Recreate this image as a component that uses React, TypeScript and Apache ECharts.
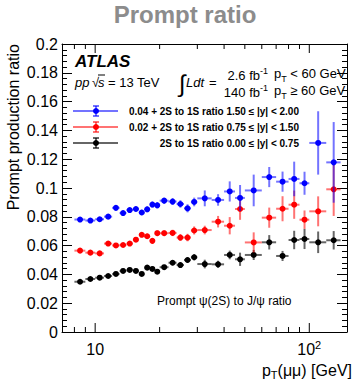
import { useEffect, useRef } from 'react';
import * as echarts from 'echarts';

// pT bins (GeV): centres and edges
const ptCenter = [8.5, 9.5, 10.5, 11.5, 12.5, 13.5, 14.5, 15.5, 16.5, 17.5, 18.5, 19.5, 21, 23, 25, 27, 29, 32.5, 37.5, 42.5, 47.5, 55, 65, 75, 85, 95, 110, 130];
const ptLow = [8, 9, 10, 11, 12, 13, 14, 15, 16, 17, 18, 19, 20, 22, 24, 26, 28, 30, 35, 40, 45, 50, 60, 70, 80, 90, 100, 120];
const ptHigh = [9, 10, 11, 12, 13, 14, 15, 16, 17, 18, 19, 20, 22, 24, 26, 28, 30, 35, 40, 45, 50, 60, 70, 80, 90, 100, 120, 140];

// 1.50 <= |y| < 2.00, shifted by +0.04
const ratioForward = [0.0781, 0.0774, 0.0783, 0.0801, 0.0862, 0.0826, 0.0847, 0.0854, 0.0830, 0.0852, 0.0885, 0.0880, 0.0912, 0.0906, 0.0889, 0.0859, 0.0903, 0.0928, 0.0917, 0.0976, 0.0931, 0.0983, 0.1076, 0.1044, 0.1063, 0.1033, 0.1313, 0.1178];
const errForward = [0.0014, 0.0014, 0.0014, 0.0015, 0.0016, 0.0016, 0.0017, 0.0018, 0.0019, 0.002, 0.0021, 0.0022, 0.0022, 0.0024, 0.0026, 0.0028, 0.003, 0.0055, 0.004, 0.007, 0.009, 0.011, 0.007, 0.007, 0.012, 0.008, 0.022, 0.028];

// 0.75 <= |y| < 1.50, shifted by +0.02
const ratioMiddle = [0.0565, 0.0551, 0.0546, 0.0614, 0.0601, 0.0604, 0.0614, 0.0641, 0.0675, 0.0665, 0.0633, 0.0686, 0.0686, 0.0688, 0.0656, 0.0656, 0.0705, 0.0708, 0.0766, 0.0738, 0.0854, 0.0622, 0.0794, 0.0856, 0.0884, 0.0780, 0.0838, 0.0991];
const errMiddle = [0.0012, 0.0012, 0.0012, 0.0013, 0.0013, 0.0014, 0.0015, 0.0016, 0.0017, 0.0018, 0.0019, 0.002, 0.002, 0.0022, 0.0024, 0.0026, 0.0028, 0.003, 0.004, 0.006, 0.0075, 0.007, 0.007, 0.0087, 0.0098, 0.0064, 0.0104, 0.0185];

// 0.00 <= |y| < 0.75
const ratioCentral = [0.0349, 0.0368, 0.0377, 0.0389, 0.0403, 0.0424, 0.0431, 0.0424, 0.0403, 0.0447, 0.0438, 0.0419, 0.0450, 0.0481, 0.0465, 0.0500, 0.0519, 0.0472, 0.0470, 0.0535, 0.0505, 0.0535, 0.0623, 0.0528, 0.0639, 0.0646, 0.0623, 0.0637];
const errCentral = [0.001, 0.001, 0.001, 0.001, 0.0011, 0.0011, 0.0012, 0.0012, 0.0013, 0.0014, 0.0015, 0.0016, 0.0016, 0.0018, 0.002, 0.002, 0.0022, 0.003, 0.0025, 0.003, 0.0046, 0.0035, 0.005, 0.0035, 0.0064, 0.007, 0.0075, 0.0064];

const seriesNames = [
  '0.04 + 2S to 1S ratio 1.50 \u2264 |y| < 2.00',
  '0.02 + 2S to 1S ratio 0.75 \u2264 |y| < 1.50',
  '2S to 1S ratio 0.00 \u2264 |y| < 0.75',
];
const seriesColors = ['#0000ff', '#ff0000', '#000000'];
const barColors = ['rgba(0,0,255,0.55)', 'rgba(255,0,0,0.55)', 'rgba(0,0,0,0.6)'];

// x-axis tick values (GeV)
const xMajorTicks = [10, 100];
const xMinorTicks = [8, 9, 20, 30, 40, 50, 60, 70, 80, 90];

const FONT = '"Liberation Sans", Arial, Helvetica, sans-serif';

function errorSeries(idx: number, values: number[], errs: number[]) {
  return {
    type: 'custom',
    name: seriesNames[idx],
    xAxisIndex: 0,
    yAxisIndex: 0,
    clip: false,
    silent: true,
    data: ptCenter.map((x, i) => [x, values[i], ptLow[i], ptHigh[i], errs[i]]),
    encode: { x: 0, y: 1 },
    renderItem: (_params: any, api: any) => {
      const xc = api.value(0);
      const yv = api.value(1);
      const lo = api.value(2);
      const hi = api.value(3);
      const e = api.value(4);
      const c = api.coord([xc, yv]);
      const l = api.coord([lo, yv]);
      const h = api.coord([hi, yv]);
      const t = api.coord([xc, yv + e]);
      const b = api.coord([xc, yv - e]);
      const stroke = barColors[idx];
      return {
        type: 'group',
        children: [
          { type: 'line', shape: { x1: l[0], y1: c[1], x2: h[0], y2: c[1] }, style: { stroke, lineWidth: 2 } },
          { type: 'line', shape: { x1: c[0], y1: t[1], x2: c[0], y2: b[1] }, style: { stroke, lineWidth: 2 } },
          { type: 'circle', shape: { cx: c[0], cy: c[1], r: 3 }, style: { fill: seriesColors[idx] } },
        ],
      };
    },
  };
}

// tick marks of the log pT axis, drawn inward on the bottom and top frame
const xTickSeries = {
  type: 'custom',
  name: 'x ticks',
  silent: true,
  clip: false,
  xAxisIndex: 0,
  yAxisIndex: 0,
  data: [...xMajorTicks.map((v) => [v, 0, 9]), ...xMinorTicks.map((v) => [v, 0, 5])],
  encode: { x: 0, y: 1 },
  renderItem: (params: any, api: any) => {
    const cs = params.coordSys;
    const x = api.coord([api.value(0), 0.1])[0];
    const len = api.value(2);
    const bottom = cs.y + cs.height;
    const top = cs.y;
    return {
      type: 'group',
      children: [
        { type: 'line', shape: { x1: x, y1: bottom, x2: x, y2: bottom - len }, style: { stroke: '#000', lineWidth: 1 } },
        { type: 'line', shape: { x1: x, y1: top, x2: x, y2: top + len }, style: { stroke: '#000', lineWidth: 1 } },
      ],
    };
  },
};

function legendGraphics() {
  const rows = [111, 127, 143];
  const out: any[] = [];
  rows.forEach((y, i) => {
    const stroke = barColors[i];
    out.push(
      { type: 'line', shape: { x1: 73, y1: y, x2: 118, y2: y }, style: { stroke, lineWidth: 2 } },
      { type: 'line', shape: { x1: 96, y1: y - 5, x2: 96, y2: y + 5 }, style: { stroke, lineWidth: 2 } },
      { type: 'line', shape: { x1: 93, y1: y - 5, x2: 99, y2: y - 5 }, style: { stroke, lineWidth: 2 } },
      { type: 'line', shape: { x1: 93, y1: y + 5, x2: 99, y2: y + 5 }, style: { stroke, lineWidth: 2 } },
      { type: 'circle', shape: { cx: 96, cy: y, r: 3 }, style: { fill: seriesColors[i] } },
      {
        type: 'text',
        x: 299,
        y,
        style: { text: seriesNames[i], fill: '#000', fontSize: 10, fontWeight: 'bold', fontFamily: FONT, align: 'right', verticalAlign: 'middle' },
      },
    );
  });
  return out;
}

const txt = (x: number, y: number, text: string, extra: any = {}) => ({
  type: 'text',
  x,
  y,
  style: { text, fill: '#000', fontSize: 13, fontFamily: FONT, align: 'left', verticalAlign: 'middle', ...extra },
});

export default function App() {
  const ref = useRef<HTMLDivElement>(null);
  useEffect(() => {
    const chart = echarts.init(ref.current!, null, { renderer: 'svg' });
    const axisLineStyle = { color: '#000', width: 1 };
    const option: any = {
      animation: false,
      backgroundColor: '#fff',
      grid: { left: 62, top: 44, right: 11, bottom: 51, containLabel: false, outerBoundsMode: 'none' },
      xAxis: [
        {
          type: 'log',
          logBase: 10,
          min: 7,
          max: 150,
          position: 'bottom',
          axisLine: { show: true, onZero: false, lineStyle: axisLineStyle },
          axisTick: { show: false },
          minorTick: { show: false },
          splitLine: { show: false },
          axisLabel: {
            margin: 7,
            fontSize: 16,
            fontFamily: FONT,
            color: '#000',
            formatter: (v: number) => {
              if (Math.abs(v - 10) < 1e-6) return '{n|10}';
              if (Math.abs(v - 100) < 1e-6) return '{n|10}{s|2}';
              return '';
            },
            rich: {
              n: { fontSize: 16, fontFamily: FONT, color: '#000', lineHeight: 18, verticalAlign: 'bottom' },
              s: { fontSize: 11, fontFamily: FONT, color: '#000', lineHeight: 11, verticalAlign: 'top' },
            },
          },
        },
        {
          type: 'log',
          logBase: 10,
          min: 7,
          max: 150,
          position: 'top',
          axisLine: { show: true, onZero: false, lineStyle: axisLineStyle },
          axisTick: { show: false },
          minorTick: { show: false },
          splitLine: { show: false },
          axisLabel: { show: false },
        },
      ],
      yAxis: [
        {
          type: 'value',
          min: 0,
          max: 0.2,
          interval: 0.02,
          position: 'left',
          axisLine: { show: true, onZero: false, lineStyle: axisLineStyle },
          axisTick: { show: true, inside: true, length: 10, lineStyle: axisLineStyle },
          minorTick: { show: true, splitNumber: 5, length: 5, lineStyle: axisLineStyle },
          splitLine: { show: false },
          axisLabel: { fontSize: 16, fontFamily: FONT, color: '#000', margin: 4 },
        },
        {
          type: 'value',
          min: 0,
          max: 0.2,
          interval: 0.02,
          position: 'right',
          axisLine: { show: true, onZero: false, lineStyle: axisLineStyle },
          axisTick: { show: true, inside: true, length: 10, lineStyle: axisLineStyle },
          minorTick: { show: true, splitNumber: 5, length: 5, lineStyle: axisLineStyle },
          splitLine: { show: false },
          axisLabel: { show: false },
        },
      ],
      series: [
        xTickSeries,
        errorSeries(2, ratioCentral, errCentral),
        errorSeries(1, ratioMiddle, errMiddle),
        errorSeries(0, ratioForward, errForward),
      ],
      graphic: [
        {
          type: 'text',
          x: 185,
          y: 14,
          style: { text: 'Prompt ratio', fill: '#8c8c8c', fontSize: 24, fontWeight: 'bold', fontFamily: FONT, align: 'center', verticalAlign: 'middle' },
        },
        {
          type: 'text',
          x: 13,
          y: 44,
          rotation: Math.PI / 2,
          style: { text: 'Prompt production ratio', fill: '#000', fontSize: 16, fontFamily: FONT, align: 'right', verticalAlign: 'middle' },
        },
        {
          type: 'text',
          x: 352,
          y: 371,
          style: {
            text: '{n|p}{b|T}{n|(\u03bc\u03bc) [GeV]}',
            align: 'right',
            verticalAlign: 'middle',
            rich: {
              n: { fontSize: 16, fontFamily: FONT, fill: '#000', lineHeight: 18, verticalAlign: 'top' },
              b: { fontSize: 11, fontFamily: FONT, fill: '#000', lineHeight: 11, verticalAlign: 'bottom' },
            },
          },
        },
        txt(75, 61, 'ATLAS', { fontSize: 17, fontWeight: 'bold', fontStyle: 'italic' }),
        txt(75, 82, 'pp', { fontStyle: 'italic' }),
        txt(92, 82, '\u221a'),
        txt(98, 82, 's', { fontStyle: 'italic' }),
        { type: 'line', shape: { x1: 98, y1: 75, x2: 105, y2: 75 }, style: { stroke: '#000', lineWidth: 1 } },
        txt(108, 82, '= 13 TeV'),
        txt(179, 83, '\u222b', { fontSize: 24 }),
        txt(186, 82, 'Ldt', { fontStyle: 'italic' }),
        txt(209, 82, '='),
        {
          type: 'text',
          x: 268,
          y: 74,
          style: {
            text: '{n|2.6 fb}{s|-1}',
            align: 'right',
            verticalAlign: 'middle',
            rich: {
              n: { fontSize: 13, fontFamily: FONT, fill: '#000', lineHeight: 16, verticalAlign: 'bottom' },
              s: { fontSize: 9, fontFamily: FONT, fill: '#000', lineHeight: 9, verticalAlign: 'top' },
            },
          },
        },
        {
          type: 'text',
          x: 268,
          y: 91,
          style: {
            text: '{n|140 fb}{s|-1}',
            align: 'right',
            verticalAlign: 'middle',
            rich: {
              n: { fontSize: 13, fontFamily: FONT, fill: '#000', lineHeight: 16, verticalAlign: 'bottom' },
              s: { fontSize: 9, fontFamily: FONT, fill: '#000', lineHeight: 9, verticalAlign: 'top' },
            },
          },
        },
        {
          type: 'text',
          x: 274,
          y: 75,
          style: {
            text: '{n|p}{b|T}{n| < 60 GeV}',
            align: 'left',
            verticalAlign: 'middle',
            rich: {
              n: { fontSize: 13, fontFamily: FONT, fill: '#000', lineHeight: 16, verticalAlign: 'top' },
              b: { fontSize: 9, fontFamily: FONT, fill: '#000', lineHeight: 9, verticalAlign: 'bottom' },
            },
          },
        },
        {
          type: 'text',
          x: 274,
          y: 92,
          style: {
            text: '{n|p}{b|T}{n| \u2265 60 GeV}',
            align: 'left',
            verticalAlign: 'middle',
            rich: {
              n: { fontSize: 13, fontFamily: FONT, fill: '#000', lineHeight: 16, verticalAlign: 'top' },
              b: { fontSize: 9, fontFamily: FONT, fill: '#000', lineHeight: 9, verticalAlign: 'bottom' },
            },
          },
        },
        ...legendGraphics(),
        txt(157, 301, 'Prompt \u03c8(2S) to J/\u03c8 ratio', { fontSize: 12 }),
      ],
    };
    chart.setOption(option);
    return () => chart.dispose();
  }, []);
  return <div ref={ref} style={{ position: 'absolute', left: 0, top: 0, width: 358, height: 383, background: '#fff' }} />;
}
